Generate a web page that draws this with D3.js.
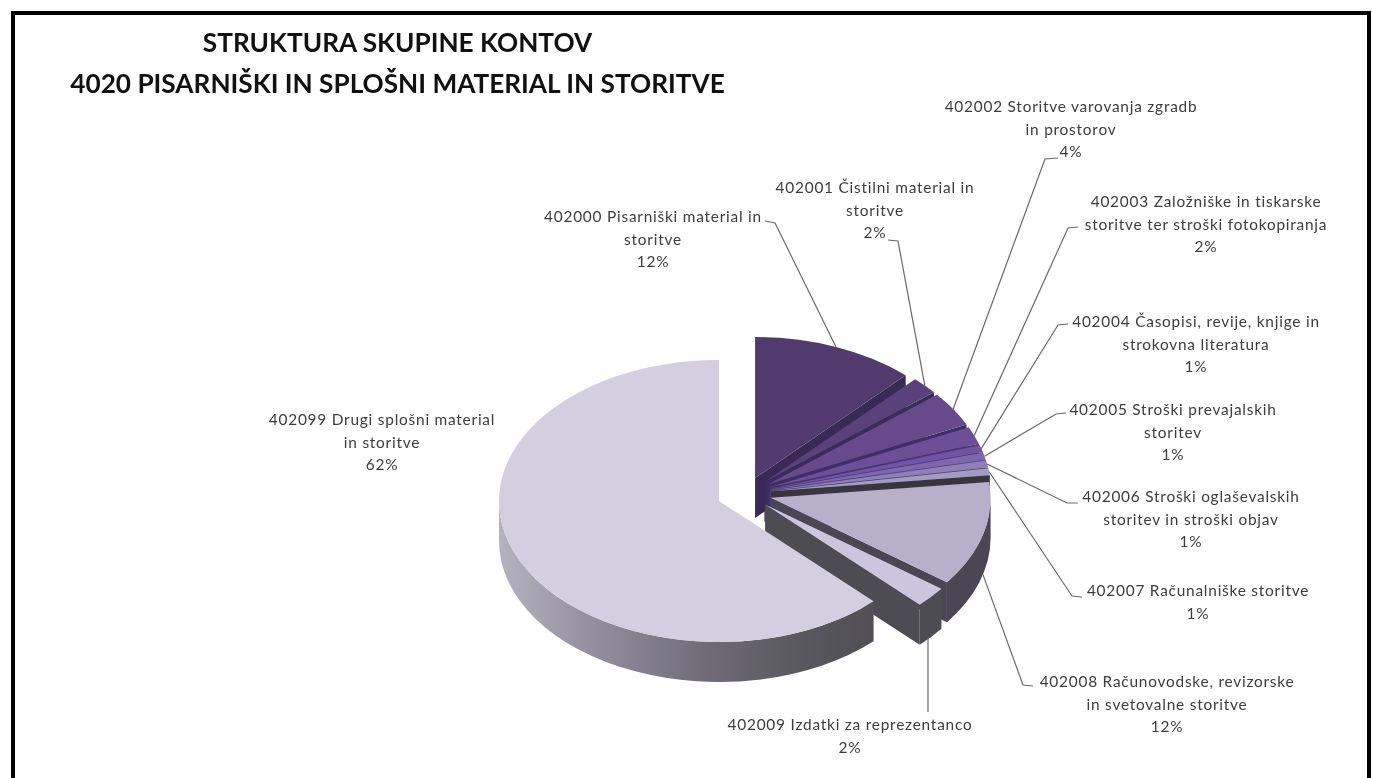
<!DOCTYPE html>
<html><head><meta charset="utf-8">
<script src="https://cdn.jsdelivr.net/npm/d3@7/dist/d3.min.js"></script>
<style>html,body{margin:0;padding:0;background:#fff;overflow:hidden}svg{display:block;filter:blur(0.35px)}</style>
</head><body><svg id="c" width="1373" height="778"></svg>
<script>
// ---- data ----
const titleLines = ["STRUKTURA SKUPINE KONTOV", "4020 PISARNIŠKI IN SPLOŠNI MATERIAL IN STORITVE"];
const categoryLines = [
  ["402000 Pisarniški material in", "storitve"],
  ["402001 Čistilni material in", "storitve"],
  ["402002 Storitve varovanja zgradb", "in prostorov"],
  ["402003 Založniške in tiskarske", "storitve ter stroški fotokopiranja"],
  ["402004 Časopisi, revije, knjige in", "strokovna literatura"],
  ["402005 Stroški prevajalskih", "storitev"],
  ["402006 Stroški oglaševalskih", "storitev in stroški objav"],
  ["402007 Računalniške storitve"],
  ["402008 Računovodske, revizorske", "in svetovalne storitve"],
  ["402009 Izdatki za reprezentanco"],
  ["402099 Drugi splošni material", "in storitve"]
];
const shares = [12, 2, 4, 2, 0.8, 0.8, 0.8, 0.8, 12, 2.4, 62.4];

// ---- styles ----
const topColors  = ["#523a6e","#5b417b","#674a8c","#6c4f96","#7353a3","#7f66ad","#8f7eb8","#a49bc0","#b8afca","#cbc6dc","#d3cfe0"];
const sideColors = ["#3a2856","#3b2a5c","#3f2d66","#46356f","#4d3b7c","#54467e","#4a4560","#38353f","#4b4653","#4d4b53","url(#bigWall)"];

// ---- layout ----
const W = 1373, H = 778;
const rx = 220, ry = 141, depth = 40;
const pieCentre = [719, 501];               // position of the un-exploded big slice
const groupShift = [26.5, -7.5], explode = 26; // the small slices are pulled out together
const labelCentreX = [653, 875, 1071, 1206, 1196, 1173, 1191, 1198, 1167, 850, 382];
const labelTopY    = [217, 188, 107, 202, 322, 410, 497, 591, 682, 725, 420];
const lineStep = 22.7;
const labelFontSize = 15.4, labelTracking = 0.78;
const leaderElbows = [
  [[765,221],[775,223]], [[888,240],[898,241]], [[1058,158],[1045,159]], [[1078,227],[1068,228]],
  [[1068,324],[1058,325]], [[1066,413],[1056,414]], [[1078,503],[1067,503]], [[1082,597],[1072,596]],
  [[1033,686],[1023,685]], [[928,712]], null
];

const svg = d3.select("#c");
svg.append("rect").attr("width", W).attr("height", H).attr("fill", "#fff");
const defs = svg.append("defs");
const grad = defs.append("linearGradient").attr("id", "bigWall").attr("gradientUnits", "userSpaceOnUse")
  .attr("x1", 499).attr("x2", 875).attr("y1", 0).attr("y2", 0);
[[0,"#b5b2c0"],[0.25,"#938f9e"],[0.55,"#6f6c78"],[0.8,"#59575f"],[1,"#525056"]]
  .forEach(([o,c]) => grad.append("stop").attr("offset", o).attr("stop-color", c));

// frame: top, left and right rules only (the bottom is cropped)
svg.append("path").attr("d", d3.line()([[13,H],[13,13],[1369,13],[1369,H]]))
  .attr("fill", "none").attr("stroke", "#000").attr("stroke-width", 4);

// title
svg.append("g").selectAll("text").data(titleLines).join("text")
  .attr("x", 397.5).attr("y", (d,i) => 52 + i*41)
  .attr("text-anchor", "middle").attr("font-family", "Lato").attr("font-weight", 700)
  .attr("font-size", 26.2).attr("fill", "#111").text(d => d);

// pie
const pie = d3.pie().sort(null).value(d => d)(shares);
const total = d3.sum(shares);
const pct = d3.format(".0%");
const pieArc = d3.arc().innerRadius(0).outerRadius(rx);
const mid = d => (d.startAngle + d.endAngle) / 2;
const isBig = i => i === shares.length - 1;
const centreOf = (d, i) => isBig(i) ? pieCentre : [
  pieCentre[0] + groupShift[0] + explode * Math.sin(mid(d)),
  pieCentre[1] + groupShift[1] - explode * Math.cos(mid(d)) * ry / rx
];
const rim = (c, a, dy = 0) => [c[0] + rx * Math.sin(a), c[1] - ry * Math.cos(a) + dy];

const gPie = svg.append("g");
pie.forEach((d, i) => {
  const c = centreOf(d, i), g = gPie.append("g");
  const a0 = Math.max(d.startAngle, Math.PI / 2), a1 = Math.min(d.endAngle, 3 * Math.PI / 2);
  if (d.endAngle < Math.PI) {
    const o = rim(c, d.endAngle);
    g.append("path").attr("fill", sideColors[i])
      .attr("d", d3.line()([c, o, [o[0], o[1] + depth], [c[0], c[1] + depth]]) + "Z");
  }
  if (a1 > a0) {
    const p0 = rim(c, a0), p1 = rim(c, a1), q1 = rim(c, a1, depth), q0 = rim(c, a0, depth);
    g.append("path").attr("fill", sideColors[i])
      .attr("d", `M${p0}A${rx} ${ry} 0 0 1 ${p1}L${q1}A${rx} ${ry} 0 0 0 ${q0}Z`);
  }
  g.append("path").attr("fill", topColors[i]).attr("d", pieArc(d))
    .attr("transform", `translate(${c}) scale(1,${ry / rx})`);
});

// leaders
const gLead = svg.append("g").attr("fill", "none").attr("stroke", "#6a6a6a").attr("stroke-width", 1.2);
pie.forEach((d, i) => {
  const elbow = leaderElbows[i];
  if (!elbow) return;
  const m = mid(d);
  const anchor = rim(centreOf(d, i), m, m > Math.PI / 2 ? depth : 0);
  // a single-point leader drops straight down from the label to the slice
  const end = elbow.length === 1 ? [elbow[0][0], anchor[1]] : anchor;
  gLead.append("path").attr("d", d3.line()(elbow.concat([end])));
});

// labels
const gLab = svg.append("g").attr("font-family", "Lato").attr("font-size", labelFontSize)
  .attr("letter-spacing", labelTracking).attr("fill", "#3d3d3d").attr("text-anchor", "middle");
pie.forEach((d, i) => {
  const lines = categoryLines[i].concat([pct(d.value / total)]);
  gLab.append("g").selectAll("text").data(lines).join("text")
    .attr("x", labelCentreX[i])
    .attr("y", (t, k) => labelTopY[i] + 5 + k * lineStep)
    .text(t => t);
});
</script></body></html>
